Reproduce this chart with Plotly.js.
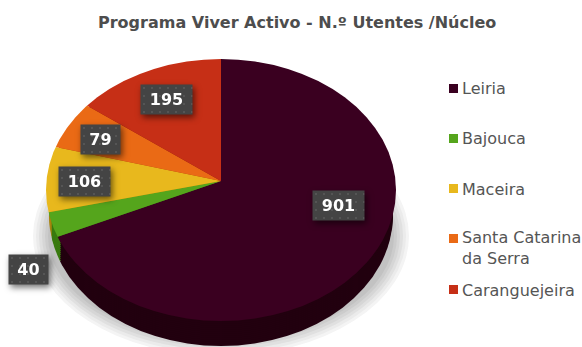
<!DOCTYPE html>
<html><head><meta charset="utf-8">
<script src="https://cdn.plot.ly/plotly-3.0.0.min.js"></script>
<style>html,body{margin:0;padding:0;background:#fff}#c{width:582px;height:347px}</style>
</head><body><div id="c"></div>
<script>
const categories = ['Leiria','Bajouca','Maceira','Santa Catarina<br>da Serra','Caranguejeira'];
const values = [901,40,106,79,195];
const topColors = ['#3a0020','#55a51c','#e8b81d','#ea6a15','#c62f16'];
const rimColors = ['#22000f','#3a7a10','#a8850f','#a84a0c','#8a200e'];
const titleText = 'Programa Viver Activo - N.º Utentes /Núcleo';
const labelBoxes = [[338.5,205.5],[28.5,269.5],[84.5,181.5],[100.5,139.5],[166.5,99]];
const legendRows = [88.5,138.5,188.5,238.5,289.5];
const shadowRings = [[33,409,116,356,'#f4f4f4'],[36,406,119,353,'#ebebeb'],[39,403,122,350,'#e0e0e0'],[42,400,125,347,'#d6d6d6'],[45,397,128,344,'#cccccc'],[48,394,131,341,'#c2c2c2']];
const W=582,H=347,R=100,CX=221,CY=181,RIM=25;
const SX=2.2,SY=SX*0.75;

const traces=[], placed=[];
function pie(colors,d,erx,ery,ecx,ecy,name){
  traces.push({type:'pie',values:values,labels:categories,name:name,sort:false,direction:'clockwise',rotation:0,
    marker:{colors:colors,line:{width:0}},textinfo:'none',hoverinfo:'label+value',showlegend:false,
    domain:{x:[(CX-R)/W,(CX+R)/W],y:[1-(CY+d+R)/H,1-(CY+d-R)/H]}});
  placed.push({cy:CY+d,erx,ery,ecx,ecy});
}
for(let d=RIM;d>0;d-=2) pie(rimColors,d,172,131,221,190+d,'rim');
pie(topColors,0,175,131,221,190,'top');

const annotations=[{xref:'paper',yref:'paper',x:297/W,y:1-22/H,text:'<b>'+titleText+'</b>',showarrow:false,
  font:{family:'DejaVu Sans',size:16,color:'#4d4d4d'},xanchor:'center',yanchor:'middle'}];
values.forEach((v,i)=>annotations.push({xref:'paper',yref:'paper',x:labelBoxes[i][0]/W,y:1-labelBoxes[i][1]/H,
  text:'<b>'+v+'</b>',showarrow:false,bgcolor:'#444444',width:v>=100?47:35,height:25,borderpad:2,
  font:{family:'DejaVu Sans',size:16,color:'#ffffff'},xanchor:'center',yanchor:'middle'}));
const shapes=shadowRings.map(r=>({type:'circle',layer:'below',xref:'paper',yref:'paper',x0:r[0]/W,x1:r[1]/W,y0:1-r[3]/H,y1:1-r[2]/H,fillcolor:r[4],line:{width:0}}));
categories.forEach((c,i)=>{
  const y=legendRows[i];
  shapes.push({type:'rect',xref:'paper',yref:'paper',x0:449/W,x1:458/W,y0:1-(y+4.5)/H,y1:1-(y-4.5)/H,fillcolor:topColors[i],line:{width:0}});
  const off=c.includes('<br>')?11:10;
  annotations.push({xref:'paper',yref:'paper',x:461/W,y:1-(y-off)/H,text:c,showarrow:false,align:'left',
    font:{family:'DejaVu Sans',size:16,color:'#555555'},xanchor:'left',yanchor:'top',borderpad:0});
});
const layout={width:W,height:H,margin:{l:0,r:0,t:0,b:0},paper_bgcolor:'#fff',plot_bgcolor:'rgba(0,0,0,0)',showlegend:false,annotations,shapes};
Plotly.newPlot('c',traces,layout,{displayModeBar:false,staticPlot:true}).then(()=>{
  const root=document.getElementById('c');
  const main=root.querySelector('.main-svg');
  const NS='http://www.w3.org/2000/svg';
  const defs=document.createElementNS(NS,'defs');
  let html='<pattern id="dots" width="8" height="8" patternUnits="userSpaceOnUse"><rect width="8" height="8" fill="#444"/><rect x="3" y="3" width="2" height="2" fill="#555"/></pattern>';
  const tr=root.querySelectorAll('.pielayer .trace');
  tr.forEach((t,i)=>{
    const p=placed[i];
    const lcx=CX+(p.ecx-CX)/SX, lcy=p.cy+(p.ecy-p.cy)/SY;
    html+=`<clipPath id="cp${i}"><ellipse cx="${lcx}" cy="${lcy}" rx="${p.erx/SX}" ry="${p.ery/SY}"/></clipPath>`;
    t.setAttribute('transform',`translate(${CX},${p.cy}) scale(${SX},${SY}) translate(${-CX},${-p.cy})`);
    t.setAttribute('clip-path',`url(#cp${i})`);
  });
  defs.innerHTML=html;
  main.insertBefore(defs,main.firstChild);
  root.querySelectorAll('.annotation').forEach((a,i)=>{
    if(i>=1&&i<=values.length){
      const bg=a.querySelector('rect.bg');
      if(bg) bg.style.fill='url(#dots)';
      a.style.filter='drop-shadow(2px 3px 3px rgba(0,0,0,.55))';
    }
  });
});
</script></body></html>
